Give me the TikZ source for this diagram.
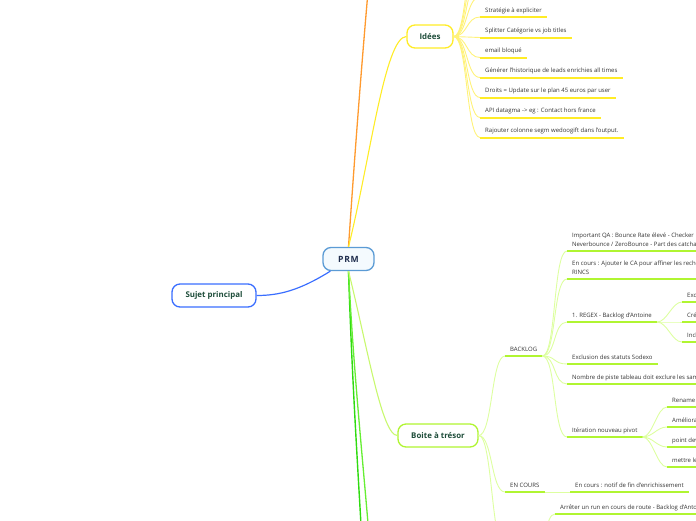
\documentclass[tikz,border=0pt]{standalone}
\usepackage{fontspec}
\setmainfont{Open Sans}
\definecolor{jaune}{HTML}{FFEC26}
\definecolor{jauneclair}{HTML}{FFF27A}
\definecolor{lime}{HTML}{B0F531}
\definecolor{limeclair}{HTML}{DDFFA0}
\definecolor{bleu}{HTML}{3A6EFF}
\definecolor{bleuclair}{HTML}{5B9BD5}
\definecolor{fondbleu}{HTML}{F4FAFE}
\definecolor{orangevif}{HTML}{FF9A2E}
\definecolor{vertvif}{HTML}{2FDB10}
\definecolor{vertdoux}{HTML}{66EE33}
\definecolor{titre}{HTML}{1E4D3A}
\definecolor{marine}{HTML}{1F2D4D}
\definecolor{texte}{HTML}{333333}
\tikzset{
  boxnode/.style={draw, rounded corners=8pt, line width=1.3pt, fill=white,
    minimum height=23pt, inner sep=0pt, text=titre,
    font=\fontsize{7.9}{9}\selectfont\bfseries},
  item/.style={anchor=south west, inner xsep=5pt, inner ysep=3.2pt,
    text depth=1.5pt, align=left, text=texte,
    font=\fontsize{6}{8.6}\selectfont},
  yline/.style={jaune, line width=2pt},
  ycon/.style={jauneclair, line width=0.9pt},
  gline/.style={lime, line width=2pt},
  gcon/.style={limeclair, line width=0.9pt},
}
\begin{document}
\begin{tikzpicture}[x=1pt,y=-1pt]
    \useasboundingbox (0,0) rectangle (696,520);
    \clip (0,0) rectangle (696,520);

    % Main topics
    \node[boxnode, draw=bleuclair, fill=fondbleu, text=marine, minimum width=51pt,
      font=\fontsize{8.6}{9}\selectfont\bfseries\addfontfeature{LetterSpace=8}] (prm) at (348.5,259) {PRM};
    \node[boxnode, draw=bleu, minimum width=84pt] (sujet) at (214,295.5) {Sujet principal};
    \node[boxnode, draw=jaune, minimum width=46pt] (idees) at (430,36.5) {Idées};
    \node[boxnode, draw=lime, minimum width=80pt] (boite) at (438,435.5) {Boite à trésor};

    % Branches leaving the frame
    \coordinate (haut) at (369,-20);
    \coordinate (bas1) at (363,560);
    \coordinate (bas2) at (371,560);
    \draw[orangevif, line width=1.3pt] (prm.north) .. controls (355,150) and (362,60) .. (haut);
    \draw[vertvif, line width=1.4pt] (prm.south) .. controls (352,380) and (358,470) .. (bas1);
    \draw[vertdoux, line width=1.3pt] (prm.south) .. controls (354,380) and (364,470) .. (bas2);
    \draw[bleu, line width=1.2pt] ([xshift=8pt]prm.south west) .. controls (300,290) and (280,295.5) .. (sujet.east);
    \draw[jaune, line width=1.1pt] (prm.north) .. controls (370,160) and (385,36.5) .. (idees.west);
    \draw[lime!70, line width=1.1pt] (prm.south) .. controls (368,350) and (382,435.5) .. (boite.west);

    % Idees
    \node[item] (i1) at (480,17) {Stratégie à expliciter};
    \node[item] (i2) at (480,37.5) {Splitter Catégorie vs job titles};
    \node[item] (i3) at (480,57.5) {email bloqué};
    \node[item] (i4) at (480,77.5) {Générer l'historique de leads enrichies all times};
    \node[item] (i5) at (480,97.5) {Droits = Update sur le plan 45 euros par user};
    \node[item] (i6) at (480,117.5) {API datagma -> eg : Contact hors france};
    \node[item] (i7) at (480,137.5) {Rajouter colonne segm wedoogift dans l'output.};
    \coordinate (h1) at (480,-3);
    \coordinate (h2) at (480,-23);
    \coordinate (h3) at (480,-43);
    \coordinate (h4) at (480,-63);
    \foreach \n in {h1,h2,h3,h4}
      \draw[ycon] (idees.east) .. controls +(14,0) and +(-14,0) .. (\n);
    \foreach \n in {i1,i2,i3,i4,i5,i6,i7} {
      \draw[ycon] (idees.east) .. controls +(14,0) and +(-14,0) .. (\n.south west);
      \draw[yline] (\n.south west) -- (\n.south east);
    }

    % Boite a tresor
    \node[item] (backlog) at (505,356) {BACKLOG};
    \node[item] (encours) at (505,492) {EN COURS};
    \coordinate (suite) at (505,548);
    \coordinate (suitehub) at (537,548);
    \draw[gcon] (boite.east) .. controls +(14,0) and +(-14,0) .. (suite);
    \foreach \n in {backlog,encours} {
      \draw[gcon] (boite.east) .. controls +(14,0) and +(-14,0) .. (\n.south west);
      \draw[gline] (\n.south west) -- (\n.south east);
    }

    % BACKLOG
    \node[item] (b1) at (567,251) {Important QA : Bounce Rate élevé - Checker\\Neverbounce / ZeroBounce - Part des catcha};
    \node[item] (b2) at (567,279) {En cours : Ajouter le CA pour affiner les reche\\RINCS};
    \node[item] (b3) at (567,322) {1. REGEX - Backlog d'Antoine};
    \node[item] (b4) at (567,364) {Exclusion des statuts Sodexo};
    \node[item] (b5) at (567,384) {Nombre de piste tableau doit exclure les sam};
    \node[item] (b6) at (567,437) {Itération nouveau pivot};
    \foreach \n in {b1,b2,b3,b4,b5,b6} {
      \draw[gcon] (backlog.south east) .. controls +(14,0) and +(-14,0) .. (\n.south west);
      \draw[gline] (\n.south west) -- (\n.south east);
    }

    % REGEX
    \node[item] (r1) at (682,302) {Exc};
    \node[item] (r2) at (682,322) {Cré};
    \node[item] (r3) at (682,342) {Incl};
    \foreach \n in {r1,r2,r3} {
      \draw[gcon] (b3.south east) .. controls +(10,0) and +(-10,0) .. (\n.south west);
      \draw[gline] (\n.south west) -- (\n.south east);
    }

    % Iteration nouveau pivot
    \node[item] (t1) at (667,407) {Rename};
    \node[item] (t2) at (667,427) {Améliora};
    \node[item] (t3) at (667,447) {point dev};
    \node[item] (t4) at (667,467) {mettre le};
    \foreach \n in {t1,t2,t3,t4} {
      \draw[gcon] (b6.south east) .. controls +(10,0) and +(-10,0) .. (\n.south west);
      \draw[gline] (\n.south west) -- (\n.south east);
    }

    % EN COURS and the branch below
    \node[item] (e1) at (570,492) {En cours : notif de fin d'enrichissement};
    \node[item] (a1) at (555,514) {Arrêter un run en cours de route - Backlog d'Anto};
    \draw[gcon] (encours.south east) -- (e1.south west);
    \draw[gline] (e1.south west) -- (e1.south east);
    \draw[gcon] (suitehub) .. controls +(10,0) and +(-10,0) .. (a1.south west);
    \draw[gline] (a1.south west) -- (a1.south east);
\end{tikzpicture}
\end{document}
